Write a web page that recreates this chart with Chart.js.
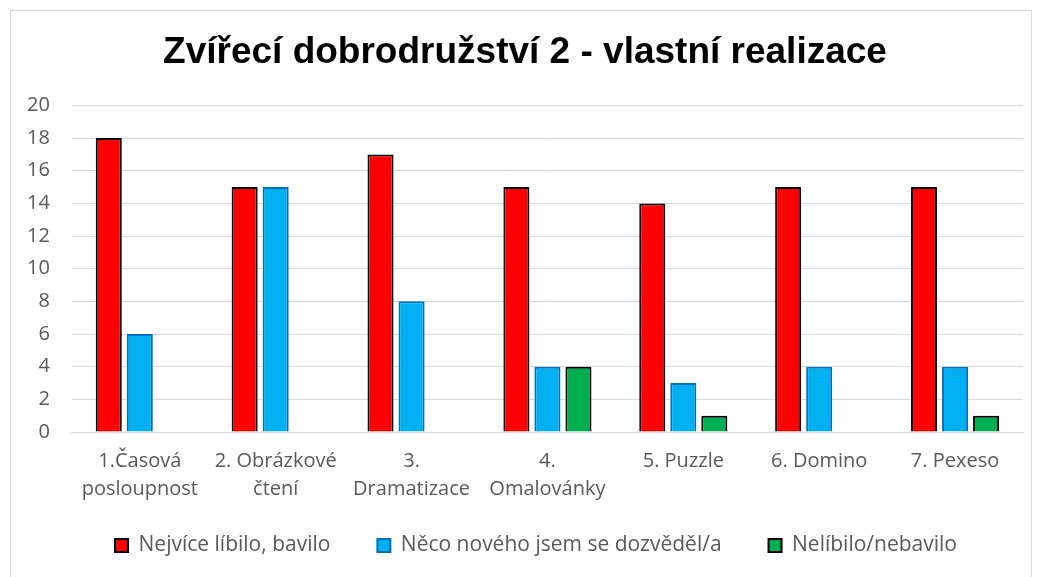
<!DOCTYPE html>
<html>
<head>
<meta charset="utf-8">
<script src="https://cdn.jsdelivr.net/npm/chart.js@4/dist/chart.umd.min.js"></script>
<style>
  body { margin: 0; background: #fff; }
  .box { position: absolute; left: 10px; top: 10px; width: 1022px; height: 590px; border: 1px solid #d9d9d9; box-sizing: border-box; }
</style>
</head>
<body>
<div class="box"><canvas id="chartZviri"></canvas></div>
<script>
var categories = [
  ["1.Časová", "posloupnost"],
  ["2. Obrázkové", "čtení"],
  ["3.", "Dramatizace"],
  ["4.", "Omalovánky"],
  "5. Puzzle",
  "6. Domino",
  "7. Pexeso"
]
var seriesNames = ["Nejvíce líbilo, bavilo", "Něco nového jsem se dozvěděl/a", "Nelíbilo/nebavilo"]
var libilo = [18, 15, 17, 15, 14, 15, 15]
var noveho = [6, 15, 8, 4, 3, 4, 4]
var nelibilo = [0, 0, 0, 4, 1, 0, 1]

var chartZviri

// legend padding is also used vertically, pull the legend row up a bit
var legendShift = {
  id: 'legendShift',
  afterLayout: function(chart) {
    chart.legend.top -= 15
    chart.legend.bottom -= 15
    chart.legend.left += 11
    chart.legend.right += 11
  }
}

function showChart() {
  var ctx = document.getElementById('chartZviri').getContext('2d');
  chartZviri = new Chart(ctx, {
    type: 'bar',
    data: {
      labels: categories,
      datasets: [{
        label: seriesNames[0],
        backgroundColor: '#ff0000',
        borderColor: '#000000',
        borderWidth: 2,
        data: libilo
      }, {
        label: seriesNames[1],
        backgroundColor: '#00b0f0',
        borderColor: '#0070c0',
        borderWidth: 2,
        data: noveho
      }, {
        label: seriesNames[2],
        backgroundColor: '#00b050',
        borderColor: '#000000',
        borderWidth: 2,
        data: nelibilo
      }]
    },
    plugins: [legendShift],
    options: {
      responsive: false,
      animation: false,
      devicePixelRatio: 1,
      categoryPercentage: 0.685,
      barPercentage: 0.84,
      layout: {
        padding: { left: 16, right: 8, top: 0, bottom: 0 }
      },
      plugins: {
        title: {
          display: true,
          text: 'Zvířecí dobrodružství 2 - vlastní realizace',
          color: '#000',
          font: { family: 'Liberation Sans', size: 37, weight: 'bold' },
          padding: { top: 20, bottom: 30 }
        },
        legend: {
          position: 'bottom',
          labels: {
            color: '#595959',
            font: { family: 'Open Sans', size: 21 },
            boxWidth: 13,
            boxHeight: 13,
            padding: 47
          }
        },
        tooltip: { enabled: false }
      },
      scales: {
        x: {
          grid: { display: false, drawTicks: false },
          border: { color: '#d9d9d9' },
          ticks: {
            color: '#595959',
            font: { family: 'Open Sans', size: 20, lineHeight: 1.4 },
            maxRotation: 0,
            autoSkip: false,
            padding: 15
          },
          afterFit: function(scale) {
            scale.paddingLeft = 0
            scale.paddingRight = 0
            scale.height -= 15
          }
        },
        y: {
          min: 0,
          max: 20,
          grid: { color: '#d9d9d9', drawTicks: false },
          border: { display: false },
          ticks: {
            stepSize: 2,
            color: '#595959',
            font: { family: 'Open Sans', size: 20 },
            padding: 22
          },
          afterFit: function(scale) {
            scale.width -= 22
          }
        }
      }
    }
  });
}

var cv = document.getElementById('chartZviri')
cv.width = 1020
cv.height = 570
showChart()
</script>
</body>
</html>
